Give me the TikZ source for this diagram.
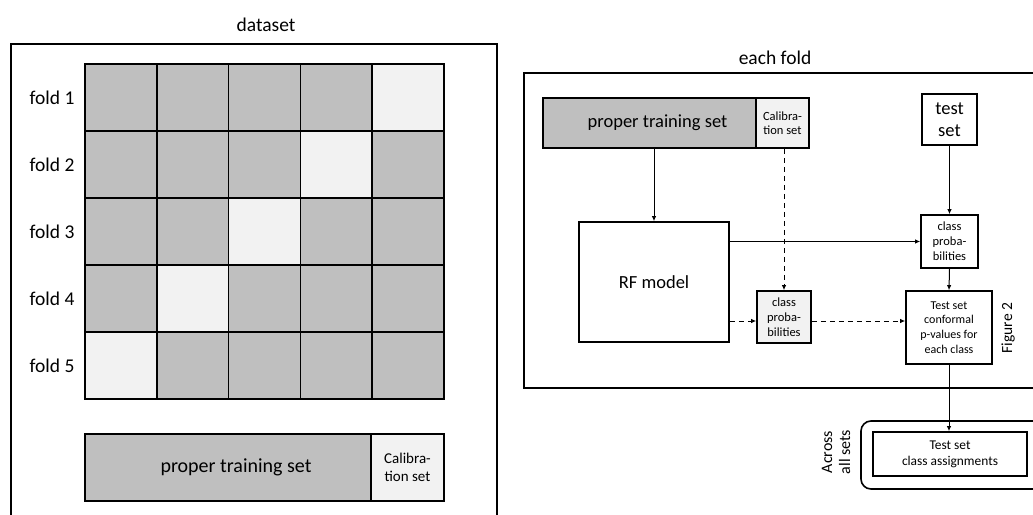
\documentclass[tikz,border=0pt]{standalone}
\usepackage{fontspec}
\setmainfont{Carlito}
\usetikzlibrary{arrows.meta}
\definecolor{dgray}{HTML}{BFBFBF}
\definecolor{lgray}{HTML}{F2F2F2}
\tikzset{
  cell/.style={draw=black, line width=1.6pt, minimum width=71.8pt, minimum height=67pt, inner sep=0pt},
  dcell/.style={cell, fill=dgray},
  lcell/.style={cell, fill=lgray},
  frame/.style={draw=black, line width=1.4pt},
  box/.style={draw=black, line width=1.6pt, inner sep=0pt, align=center},
  lab/.style={inner sep=0pt, align=center},
  arr/.style={line width=1pt, -{Latex[length=5pt,width=4.5pt]}},
  darr/.style={arr, dash pattern=on 5pt off 4pt},
}
\begin{document}
\begin{tikzpicture}[x=1pt,y=-1pt]
\useasboundingbox (0,0) rectangle (1033,514);
\clip (0,0) rectangle (1033,514);
\fill[white] (0,0) rectangle (1033,514);
% ---------- left panel ----------
\node[lab, font=\fontsize{19.5}{22}\selectfont] (dstitle) at (266,25) {dataset};
\draw[frame] (11,44) rectangle (497,540);
\foreach \r in {1,...,5}{
  \foreach \c in {1,...,5}{
    \pgfmathtruncatemacro{\lc}{6-\r}
    \ifnum\c=\lc
      \node[lcell] (g\r\c) at ({85+71.8*(\c-0.5)},{64+67*(\r-0.5)}) {};
    \else
      \node[dcell] (g\r\c) at ({85+71.8*(\c-0.5)},{64+67*(\r-0.5)}) {};
    \fi
  }
  \node[lab, font=\fontsize{19.5}{22}\selectfont] (f\r) at (52,{64+67*(\r-0.5)}) {fold \r};
}
\node[box, fill=dgray, minimum width=286pt, minimum height=67pt, font=\fontsize{20}{22}\selectfont] (lpts) at (228,467.5) {\hspace*{16pt}proper training set};
\node[box, fill=lgray, minimum width=73pt, minimum height=67pt, font=\fontsize{15}{18}\selectfont] (lcal) at (407.5,467.5) {Calibra-\\tion set};
% ---------- right panel ----------
\node[lab, font=\fontsize{19.5}{22}\selectfont] (eftitle) at (775,58) {each fold};
\draw[frame] (524,73) rectangle (1045,388);
\node[box, fill=dgray, minimum width=213pt, minimum height=50pt, font=\fontsize{18.5}{21}\selectfont] (pts) at (649.5,123) {\hspace*{16pt}proper training set};
\node[box, fill=lgray, minimum width=53pt, minimum height=50pt, font=\fontsize{12.5}{14.5}\selectfont] (cal) at (782.5,123) {Calibra-\\tion set};
\node[box, fill=white, minimum width=55pt, minimum height=51pt, font=\fontsize{18.5}{22.5}\selectfont] (test) at (949.5,119.5) {test\\set};
\node[box, fill=white, minimum width=150pt, minimum height=120pt, font=\fontsize{18.5}{21}\selectfont] (rf) at (654,282) {RF model};
\node[box, fill=lgray, minimum width=54pt, minimum height=52pt, font=\fontsize{12.5}{15}\selectfont] (cpc) at (784,317) {class\\proba-\\bilities};
\node[box, fill=white, minimum width=57pt, minimum height=53pt, font=\fontsize{12.5}{15}\selectfont] (cpt) at (949.5,241.5) {class\\proba-\\bilities};
\node[box, fill=white, minimum width=86pt, minimum height=73pt, font=\fontsize{12}{14.8}\selectfont] (conf) at (949,327.5) {Test set\\conformal\\p-values for\\each class};
\node[lab, rotate=90, font=\fontsize{15.5}{18}\selectfont] (fig2) at (1008,328) {Figure 2};
% arrows
\draw[arr] (pts.south -| rf.north) -- (rf.north);
\draw[darr] (cal.south -| cpc.north) -- (cpc.north);
\draw[arr] (test.south) -- (cpt.north);
\draw[arr] (rf.east |- cpt.west) -- (cpt.west);
\draw[darr] (rf.east |- 0,321) -- (cpc.west |- 0,321);
\draw[darr] (cpc.east |- 0,321) -- (conf.west |- 0,321);
\draw[arr] (cpt.south) -- (conf.north);
% across all sets
\draw[line width=1.6pt, rounded corners=10pt] (861,421) rectangle (1045,489);
\node[box, fill=white, minimum width=154pt, minimum height=44pt, font=\fontsize{13.4}{16}\selectfont] (assign) at (950,454) {Test set\\class assignments};
\draw[arr] (conf.south) -- (conf.south |- assign.north);
\node[lab, rotate=90, font=\fontsize{16}{18}\selectfont] (across) at (836,452) {Across\\all sets};
\end{tikzpicture}
\end{document}
